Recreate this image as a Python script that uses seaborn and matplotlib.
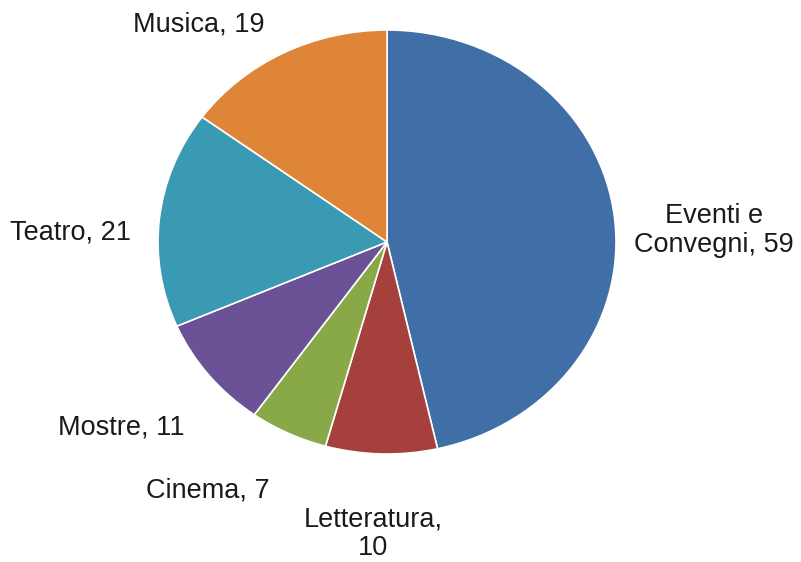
"""
Pie chart: distribuzione eventi per categoria.
"""

import matplotlib
matplotlib.use("Agg")
import matplotlib.pyplot as plt
import seaborn as sns

# ==========================================
# DATA
# ==========================================
categories = ["Eventi e\nConvegni", "Letteratura,\n", "Cinema", "Mostre", "Teatro", "Musica"]
names = ["Eventi e Convegni", "Letteratura", "Cinema", "Mostre", "Teatro", "Musica"]
values = [59, 10, 7, 11, 21, 19]
label_text = ["Eventi e\nConvegni, 59", "Letteratura,\n10", "Cinema, 7",
              "Mostre, 11", "Teatro, 21", "Musica, 19"]

# ==========================================
# STYLE / LAYOUT
# ==========================================
colors = ["#3F6FA6", "#A5403D", "#89A948", "#6B5196", "#3A9AB4", "#DE8538"]
# label centres, in pie (data) units
label_pos = [(1.428, 0.052), (-0.061, -1.377), (-0.782, -1.170),
             (-1.162, -0.873), (-1.384, 0.047), (-0.821, 1.024)]

sns.set_theme(style="white")
plt.rcParams["font.family"] = ["Liberation Sans", "DejaVu Sans"]

fig = plt.figure(figsize=(8.01, 5.62), dpi=100)
# slightly wider than tall, as in the original export
ax = fig.add_axes([158 / 801, (562 - 454) / 562, 458 / 801, 424 / 562])

wedges, _ = ax.pie(
    values,
    colors=colors,
    startangle=90,
    counterclock=False,
    wedgeprops=dict(edgecolor="white", linewidth=1.2),
)
ax.set_aspect("auto")
ax.set_xlim(-1, 1)
ax.set_ylim(-1, 1)
ax.axis("off")

for txt, (lx, ly) in zip(label_text, label_pos):
    ax.text(lx, ly, txt, ha="center", va="center", fontsize=19.5,
            color="#1a1a1a", linespacing=1.15, clip_on=False)

plt.savefig("out.png", dpi=100)
plt.close()
